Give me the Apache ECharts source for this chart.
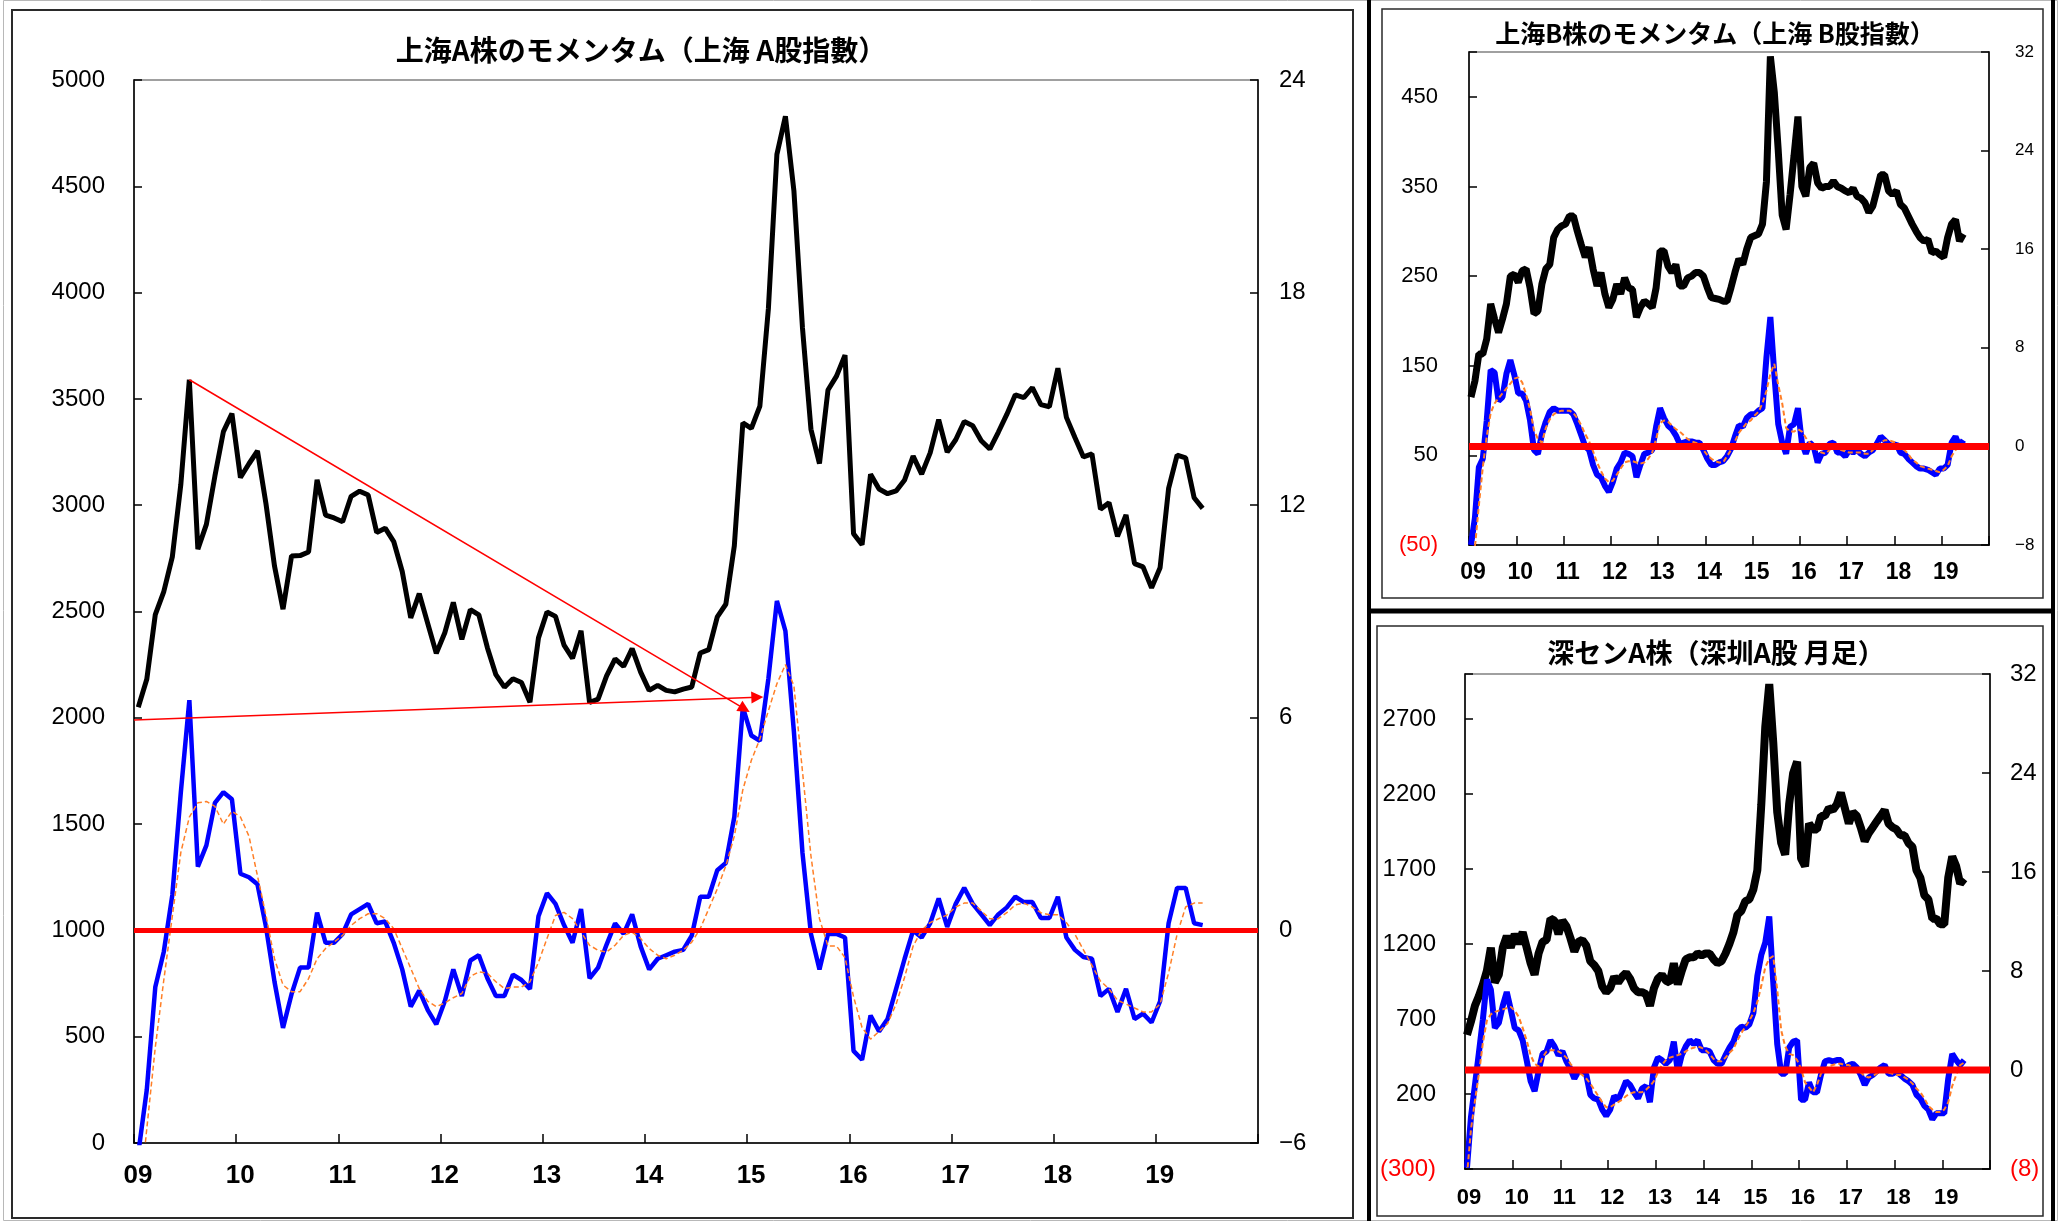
<!DOCTYPE html>
<html><head><meta charset="utf-8">
<script src="https://cdn.jsdelivr.net/npm/echarts@6/dist/echarts.min.js"></script>
<style>html,body{margin:0;padding:0;background:#fff}#c{width:2060px;height:1221px}</style>
</head><body><div id="c"></div>
<script>
// ---- tick labels (x axis: one label per year, months 0..132 since Jan 2009) ----
const yearLabels = ['09','10','11','12','13','14','15','16','17','18','19'];

// ---- 上海A株 (main panel) ----
const shA_index = [2050,2181,2485,2594,2757,3098,3590,2793,2910,3137,3346,3431,
 3130,3195,3255,3006,2714,2511,2761,2763,2780,3119,2953,2940,
 2922,3042,3066,3048,2872,2892,2829,2688,2470,2584,2443,2303,
 2400,2543,2369,2509,2484,2330,2203,2144,2184,2166,2073,2376,
 2498,2477,2342,2280,2409,2072,2088,2197,2277,2242,2325,2215,
 2129,2153,2129,2122,2135,2145,2305,2321,2475,2534,2809,3387,
 3361,3466,3924,4650,4829,4478,3836,3357,3196,3542,3607,3706,
 2866,2814,3145,3076,3054,3067,3119,3231,3146,3246,3403,3250,
 3308,3394,3374,3303,3264,3343,3427,3519,3506,3553,3473,3463,
 3644,3413,3318,3227,3241,2981,3012,2853,2954,2725,2710,2611,
 2706,3079,3236,3223,3035,2985];
const shA_mom = [-6.3,-4.5,-1.6,-0.6,1.0,3.9,6.5,1.8,2.4,3.6,3.9,3.7,
 1.6,1.5,1.3,0.1,-1.45,-2.75,-1.8,-1.05,-1.05,0.5,-0.35,-0.35,
 -0.1,0.45,0.6,0.75,0.2,0.25,-0.35,-1.1,-2.15,-1.7,-2.25,-2.65,
 -2.0,-1.1,-1.85,-0.85,-0.7,-1.35,-1.85,-1.85,-1.25,-1.4,-1.65,0.4,
 1.05,0.75,0.15,-0.35,0.6,-1.35,-1.05,-0.4,0.2,-0.1,0.45,-0.45,
 -1.1,-0.8,-0.7,-0.6,-0.55,-0.15,0.95,0.95,1.7,1.9,3.2,6.3,
 5.5,5.35,7.1,9.3,8.45,5.6,2.2,-0.1,-1.1,-0.1,-0.1,-0.2,
 -3.4,-3.65,-2.4,-2.85,-2.5,-1.65,-0.8,0.0,-0.2,0.2,0.9,0.1,
 0.75,1.2,0.75,0.45,0.15,0.45,0.65,0.95,0.8,0.8,0.35,0.35,
 0.95,-0.2,-0.55,-0.75,-0.8,-1.85,-1.65,-2.3,-1.65,-2.5,-2.35,-2.6,
 -2.0,0.2,1.2,1.2,0.2,0.15];
const shA_momAvg = [-8,-5.6,-3.3,-1.4,0.4,2.2,3.2,3.6,3.64,3.5,3.0,3.36,
 3.2,2.66,1.54,0.42,-0.8,-1.54,-1.73,-1.73,-1.36,-0.8,-0.51,-0.33,
 -0.14,0.14,0.33,0.47,0.47,0.33,0.05,-0.51,-1.07,-1.64,-2.0,-2.15,
 -2.05,-1.9,-1.78,-1.3,-1.17,-1.21,-1.45,-1.64,-1.6,-1.6,-1.45,-0.9,
 -0.23,0.42,0.51,0.33,-0.05,-0.42,-0.56,-0.61,-0.42,-0.14,-0.05,-0.23,
 -0.51,-0.7,-0.8,-0.7,-0.56,-0.33,0.05,0.61,1.17,1.82,2.66,3.97,
 4.8,5.4,6.2,6.96,7.5,6.9,4.5,2.1,0.33,-0.44,-0.44,-0.77,
 -1.87,-2.74,-3.07,-2.85,-2.63,-2.08,-1.32,-0.44,0,0.22,0.33,0.44,
 0.66,0.77,0.77,0.55,0.33,0.33,0.5,0.72,0.77,0.66,0.5,0.44,
 0.44,0.22,-0.11,-0.55,-0.99,-1.43,-1.65,-1.97,-2.08,-2.19,-2.3,-2.3,
 -2.08,-1.2,-0.11,0.66,0.77,0.77];
// trend-line annotations: [month position, index level]
const trendDown = [[6.5,3590],[71.7,2042]];
const trendUp = [[0,1990],[73.2,2097]];

// ---- 上海B株 (top right) ----
const shB_index = [115,133,163,163,180,219,202,187,202,219,250,252,
 243,256,258,237,208,211,241,258,263,293,302,306,
 308,317,317,300,285,271,282,258,239,254,230,215,
 224,241,230,248,237,235,204,215,222,219,215,237,
 278,278,261,254,263,239,239,248,250,254,254,250,
 237,226,225,224,222,222,237,254,269,263,280,293,
 295,297,308,355,495,455,390,318,302,341,384,428,
 350,339,371,376,354,348,350,350,356,350,348,345,
 343,348,339,337,332,321,328,345,363,363,345,341,
 345,330,326,317,308,300,293,289,291,276,278,274,
 271,293,308,313,289,297];
const shB_mom = [-8.0,-5.8,-1.7,-1.0,2.1,6.2,6.0,3.7,4.0,5.9,7.0,5.8,
 4.3,4.3,3.7,2.1,-0.3,-0.6,1.0,2.0,2.8,3.1,2.9,2.9,
 2.9,2.9,2.6,1.8,0.9,0.0,-0.3,-1.5,-2.3,-2.5,-3.2,-3.7,
 -2.9,-1.8,-1.3,-0.5,-0.6,-0.8,-2.5,-1.5,-0.6,-0.5,-0.3,1.6,
 3.1,2.3,1.7,1.4,0.9,0.2,0.3,0.4,0.4,0.3,0.3,-0.3,
 -1.0,-1.5,-1.5,-1.3,-1.2,-0.8,-0.2,0.8,1.7,1.6,2.3,2.6,
 2.6,2.9,3.1,7.2,10.5,5.9,1.8,0.3,-0.6,1.6,1.8,3.1,
 0.3,-0.6,0.3,0.0,-1.3,-0.6,-0.5,0.2,0.3,-0.5,-0.5,-0.8,
 -0.3,-0.5,-0.3,-0.6,-0.8,-0.5,-0.3,0.2,0.8,0.5,0.2,0.0,
 0.2,-0.5,-0.6,-1.0,-1.3,-1.6,-1.8,-1.8,-1.9,-2.1,-2.3,-1.8,
 -1.8,-1.5,0.3,0.8,0.0,0.5];
const shB_momAvg = [-10,-8.2,-4.8,-1.7,0.8,2.7,3.5,3.9,4.3,4.7,5.1,5.5,
 5.6,5.2,4.2,3.0,1.3,0.6,0.3,1.5,2.2,2.6,2.8,2.9,
 2.9,2.9,2.7,2.3,1.7,1.0,0.4,-0.4,-1.3,-2.0,-2.6,-2.9,
 -2.8,-2.3,-1.8,-1.3,-1.2,-1.2,-1.3,-1.4,-1.3,-1.0,-0.5,0.6,
 1.9,2.1,2.0,1.7,1.4,1.2,0.9,0.6,0.4,0.3,0.2,-0.3,
 -0.7,-1.0,-1.2,-1.3,-1.3,-0.8,-0.3,0.4,1.1,1.5,1.9,2.1,
 2.5,2.8,3.5,4.5,5.9,6.7,5.0,3.5,1.5,1.2,1.2,1.4,
 1.2,0.7,0.3,-0.1,-0.3,-0.5,-0.6,-0.3,0.0,-0.1,-0.3,-0.4,
 -0.5,-0.5,-0.5,-0.5,-0.6,-0.6,-0.3,0.1,0.3,0.5,0.5,0.4,
 0.3,0.0,-0.3,-0.6,-1.1,-1.3,-1.6,-1.7,-1.8,-1.9,-2.0,-2.1,
 -1.9,-1.6,-0.8,-0.3,0.0,0.2];

// ---- 深センA株 (bottom right) ----
const szA_index = [594,684,788,853,930,1021,1176,943,995,1176,1253,1176,
 1266,1202,1279,1176,1072,995,1137,1214,1227,1369,1356,1266,
 1356,1318,1240,1150,1214,1227,1189,1085,1059,1021,918,879,
 905,982,943,982,1008,969,905,879,879,866,788,905,
 969,995,956,943,1072,930,1021,1098,1111,1111,1137,1124,
 1137,1137,1098,1072,1085,1137,1202,1279,1395,1421,1486,1498,
 1563,1692,2131,2648,2933,2545,2080,1873,1796,2131,2338,2416,
 1770,1718,2003,1964,1964,2054,2054,2106,2093,2131,2209,2106,
 2003,2080,2054,1977,1886,1938,1977,2016,2054,2093,2003,1977,
 1964,1925,1925,1873,1847,1692,1641,1524,1498,1369,1369,1331,
 1331,1641,1783,1718,1602,1635];
const szA_mom = [-7.9,-3.8,-1.2,1.4,4.1,7.3,6.5,3.4,3.8,5.2,6.3,4.9,
 3.4,3.2,2.4,0.8,-0.9,-1.7,-0.1,1.3,1.5,2.4,1.9,1.2,
 1.5,0.7,0.1,-0.7,-0.1,-0.1,-0.4,-2.0,-2.3,-2.4,-3.2,-3.7,
 -3.2,-2.1,-2.4,-1.7,-0.9,-1.2,-1.8,-2.3,-1.5,-1.3,-2.6,0.2,
 1.0,0.8,0.5,0.8,2.3,-0.1,1.2,1.9,2.4,2.1,2.4,1.6,
 1.6,1.5,0.8,0.5,0.5,1.2,1.8,2.3,3.2,3.5,3.4,3.7,
 4.6,7.6,9.3,10.3,12.4,7.1,2.1,-0.3,-0.3,1.8,2.3,2.4,
 -2.4,-2.4,-1.0,-1.8,-1.8,-0.4,0.7,0.8,0.7,0.8,0.8,-0.1,
 0.4,0.5,0.2,-0.4,-1.2,-0.6,-0.4,-0.1,0.2,0.4,-0.3,-0.3,
 -0.1,-0.4,-0.7,-0.9,-1.2,-2.0,-2.3,-2.9,-3.2,-4.0,-3.5,-3.5,
 -3.5,-0.7,1.3,0.8,0.4,0.8];
const szA_momAvg = [-8.5,-4.8,-2.5,-0.3,2.2,4.0,4.5,4.7,4.8,4.9,5.0,5.1,
 4.8,4.3,3.4,2.4,1.2,0.5,0.3,1.0,1.5,1.6,1.6,1.5,
 1.3,1.0,0.5,0.1,-0.2,-0.4,-0.7,-1.1,-1.6,-2.1,-2.6,-3.0,
 -3.0,-2.8,-2.6,-2.4,-2.1,-1.9,-1.8,-1.8,-1.8,-1.6,-1.3,-0.9,
 -0.2,0.4,0.8,1.0,1.1,1.2,1.3,1.5,1.7,1.8,1.9,1.8,
 1.6,1.3,0.9,0.7,0.7,1.0,1.4,1.7,2.4,3.0,3.5,4.0,
 4.6,5.5,6.8,8.3,9.0,9.2,6.5,3.2,1.9,1.3,1.2,0.8,
 0.1,-1.0,-1.4,-1.8,-1.2,-0.3,0.1,0.3,0.4,0.5,0.5,0.4,
 0.4,0.2,0.0,-0.2,-0.5,-0.6,-0.5,-0.3,-0.1,-0.1,-0.2,-0.3,
 -0.4,-0.4,-0.6,-0.8,-1.1,-1.5,-1.8,-2.3,-2.9,-3.2,-3.4,-3.4,
 -3.2,-2.6,-1.3,-0.4,0.4,0.6];

// ---- helpers ----
const pts = arr => arr.map((v, i) => [i + 0.5, v]);   // mid-month position
const LF = '"Liberation Sans", Arial, sans-serif';
const CJK = '"Noto Sans CJK JP", sans-serif';
const xFmt = v => (v % 12 === 0 && v / 12 < yearLabels.length) ? yearLabels[v / 12] : '';
const minusFmt = v => v < 0 ? '\u2212' + Math.abs(v) : String(v);
const parenFmt = v => v < 0 ? '{neg|(' + Math.abs(v) + ')}' : String(v);

function xAxis(gi, fs, margin) {
  return {type: 'value', gridIndex: gi, min: 0, max: 132, interval: 12,
    axisLine: {onZero: false, lineStyle: {color: '#000', width: 1.5}},
    axisTick: {inside: true, length: 9, lineStyle: {color: '#000', width: 1.5}},
    axisLabel: {formatter: xFmt, color: '#000', fontWeight: 'bold', fontSize: fs,
      fontFamily: LF, margin: margin, padding: [0, 0, 0, 8]},
    splitLine: {show: false}};
}
function yAxis(gi, pos, min, max, interval, fmt, fs, margin) {
  return {type: 'value', gridIndex: gi, position: pos, min: min, max: max, interval: interval,
    axisLine: {show: true, onZero: false, lineStyle: {color: '#000', width: 1.5}},
    axisTick: {show: true, inside: true, length: 8, lineStyle: {color: '#000', width: 1.5}},
    axisLabel: {formatter: fmt, color: '#000', fontSize: fs, fontFamily: LF, margin: margin,
      rich: {neg: {color: '#ff0000', fontSize: fs, fontFamily: LF}}},
    splitLine: {show: false}};
}
function line(data, xi, yi, color, width, extra) {
  return Object.assign({type: 'line', xAxisIndex: xi, yAxisIndex: yi, data: pts(data),
    symbol: 'none', silent: true, animation: false,
    lineStyle: {color: color, width: width}}, extra || {});
}
function dashed(data, xi, yi, width) {
  return line(data, xi, yi, '#ff7f27', width, {lineStyle: {color: '#ff7f27', width: width, type: [5, 3]}});
}
function zeroLine(xi, yi, width) {
  return {type: 'line', xAxisIndex: xi, yAxisIndex: yi, data: [[0, 0], [132, 0]], symbol: 'none',
    silent: true, animation: false, z: 5, lineStyle: {color: '#ff0000', width: width}};
}

const gridStyle = {show: true, borderColor: '#a0a0a0', borderWidth: 2, backgroundColor: 'transparent'};

const option = {
  animation: false,
  backgroundColor: '#ffffff',
  grid: [
    Object.assign({left: 134, top: 80, width: 1124, height: 1063}, gridStyle),
    Object.assign({left: 1469, top: 52, width: 520, height: 493}, gridStyle),
    Object.assign({left: 1465, top: 674, width: 525, height: 495}, gridStyle)
  ],
  xAxis: [xAxis(0, 26, 20), xAxis(1, 23, 16), xAxis(2, 22, 18)],
  yAxis: [
    yAxis(0, 'left', 0, 5000, 500, v => String(v), 24, 29),
    yAxis(0, 'right', -6, 24, 6, minusFmt, 24, 21),
    yAxis(1, 'left', -50, 500, 100, v => v === 500 ? '' : parenFmt(v), 22, 31),
    yAxis(1, 'right', -8, 32, 8, minusFmt, 17, 26),
    yAxis(2, 'left', -300, 3000, 500, v => v === 3000 ? '' : parenFmt(v), 24, 29),
    yAxis(2, 'right', -8, 32, 8, parenFmt, 24, 20)
  ],
  series: [
    // main panel
    line(shA_index, 0, 0, '#000000', 5, {
      markLine: {silent: true, animation: false, symbol: ['none', 'triangle'], symbolSize: 12,
        label: {show: false}, lineStyle: {color: '#ff0000', width: 1.5, type: 'solid'},
        emphasis: {disabled: true},
        data: [
          [{coord: trendDown[0]}, {coord: trendDown[1]}],
          [{coord: trendUp[0]}, {coord: trendUp[1]}]
        ]}}),
    line(shA_mom, 0, 1, '#0000ff', 4.5),
    dashed(shA_momAvg, 0, 1, 1.5),
    zeroLine(0, 1, 5),
    // top right
    line(shB_index, 1, 2, '#000000', 7),
    line(shB_mom, 1, 3, '#0000ff', 6),
    dashed(shB_momAvg, 1, 3, 2),
    zeroLine(1, 3, 7),
    // bottom right
    line(szA_index, 2, 4, '#000000', 8),
    line(szA_mom, 2, 5, '#0000ff', 6),
    dashed(szA_momAvg, 2, 5, 2),
    zeroLine(2, 5, 7)
  ],
  graphic: [
    {type: 'rect', silent: true, z: -10, shape: {x: 3.5, y: 0.5, width: 2054, height: 1220},
      style: {fill: 'none', stroke: '#b8b8b8', lineWidth: 1}},
    {type: 'rect', silent: true, shape: {x: 12, y: 10, width: 1341, height: 1208},
      style: {fill: 'none', stroke: '#2a2a2a', lineWidth: 2}},
    {type: 'line', silent: true, shape: {x1: 1369, y1: 0, x2: 1369, y2: 1221},
      style: {stroke: '#000', lineWidth: 4}},
    {type: 'line', silent: true, shape: {x1: 2053, y1: 0, x2: 2053, y2: 1221},
      style: {stroke: '#000', lineWidth: 4}},
    {type: 'line', silent: true, shape: {x1: 1369, y1: 611, x2: 2053, y2: 611},
      style: {stroke: '#000', lineWidth: 5}},
    {type: 'rect', silent: true, shape: {x: 1382, y: 9, width: 661, height: 589},
      style: {fill: 'none', stroke: '#2a2a2a', lineWidth: 1.5}},
    {type: 'rect', silent: true, shape: {x: 1377, y: 626, width: 666, height: 590},
      style: {fill: 'none', stroke: '#2a2a2a', lineWidth: 1.5}},
    {type: 'text', silent: true, x: 641, y: 50,
      style: {text: '上海A株のモメンタム（上海 A股指數）', fontSize: 28, fontWeight: 'bold',
        fontFamily: CJK, fill: '#000', align: 'center', verticalAlign: 'middle'}},
    {type: 'text', silent: true, x: 1715, y: 33,
      style: {text: '上海B株のモメンタム（上海 B股指數）', fontSize: 25, fontWeight: 'bold',
        fontFamily: CJK, fill: '#000', align: 'center', verticalAlign: 'middle'}},
    {type: 'text', silent: true, x: 1716, y: 653,
      style: {text: '深センA株（深圳A股 月足）', fontSize: 27, fontWeight: 'bold',
        fontFamily: CJK, fill: '#000', align: 'center', verticalAlign: 'middle'}}
  ]
};

const chart = echarts.init(document.getElementById('c'), null, {renderer: 'canvas'});
chart.setOption(option);
</script>
</body></html>
